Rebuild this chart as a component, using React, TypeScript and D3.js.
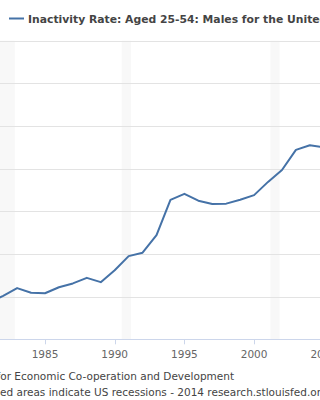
import * as React from 'react'
import { useEffect, useRef } from 'react'
import * as d3 from 'd3'

// annual observations, percent
const years = [1981, 1982, 1983, 1984, 1985, 1986, 1987, 1988, 1989, 1990, 1991, 1992, 1993,
  1994, 1995, 1996, 1997, 1998, 1999, 2000, 2001, 2002, 2003, 2004, 2005]
const rate = [4.85, 5.02, 5.2, 5.09, 5.08, 5.22, 5.31, 5.44, 5.34, 5.62, 5.95, 6.03, 6.44,
  7.27, 7.41, 7.25, 7.17, 7.18, 7.27, 7.38, 7.69, 7.97, 8.44, 8.55, 8.5]
const yTicks = [4, 5, 6, 7, 8, 9, 10, 11]
const xTicks = [1985, 1990, 1995, 2000, 2005]
const recessions: [number, number][] = [[1980.0, 1980.5], [1981.5, 1982.83], [1990.5, 1991.17], [2001.17, 2001.83]]

const title = 'Inactivity Rate: Aged 25-54: Males for the United States'
const source = 'Source: Organisation for Economic Co-operation and Development'
const note = 'Shaded areas indicate US recessions - 2014 research.stlouisfed.org'

const W = 320
const H = 400
const FONT = '"DejaVu Sans", Verdana, sans-serif'
const BLUE = '#4572a7'
const FS = 10.5

const App = () => {
  const ref = useRef<SVGSVGElement | null>(null)

  useEffect(() => {
    document.body.style.margin = '0'
    const svg = d3.select(ref.current)
    svg.selectAll('*').remove()

    const x = d3.scaleLinear().domain([1985, 2000]).range([45, 254.1])
    const y = d3.scaleLinear().domain([4, 11]).range([339.3, 40.7])

    const g = svg.append('g')

    // recession shading
    g.selectAll('rect.rec').data(recessions).enter().append('rect')
      .attr('x', d => x(d[0])).attr('width', d => x(d[1]) - x(d[0]))
      .attr('y', y(11)).attr('height', y(4) - y(11))
      .attr('fill', '#f8f8f8')

    // gridlines
    g.selectAll('line.grid').data(yTicks.slice(1)).enter().append('line')
      .attr('x1', -100).attr('x2', W + 100)
      .attr('y1', d => Math.round(y(d)) + 0.5).attr('y2', d => Math.round(y(d)) + 0.5)
      .attr('stroke', '#e3e3e3')

    // x axis
    g.append('line')
      .attr('x1', -100).attr('x2', W + 100)
      .attr('y1', Math.round(y(4)) + 0.5).attr('y2', Math.round(y(4)) + 0.5)
      .attr('stroke', '#ccd6eb')
    g.selectAll('line.tick').data(xTicks).enter().append('line')
      .attr('x1', d => Math.round(x(d)) + 0.5).attr('x2', d => Math.round(x(d)) + 0.5)
      .attr('y1', y(4)).attr('y2', y(4) + 5)
      .attr('stroke', '#ccd6eb')
    g.selectAll('text.xl').data(xTicks).enter().append('text')
      .attr('x', d => x(d)).attr('y', 357.5)
      .attr('text-anchor', 'middle').attr('font-family', FONT).attr('font-size', FS)
      .attr('fill', '#666').text(d => d)

    // series
    const line = d3.line<number>().x((d, i) => x(years[i])).y(d => y(d))
    g.append('path').datum(rate)
      .attr('d', line)
      .attr('fill', 'none').attr('stroke', BLUE).attr('stroke-width', 2)
      .attr('stroke-linejoin', 'round')

    // legend / title
    g.append('line').attr('x1', 9).attr('x2', 24).attr('y1', 18.5).attr('y2', 18.5)
      .attr('stroke', BLUE).attr('stroke-width', 2)
    g.append('text').attr('x', 28).attr('y', 22.5)
      .attr('font-family', FONT).attr('font-size', 10.8).attr('font-weight', 'bold')
      .attr('fill', '#444').text(title)

    // credits, cropped on the left
    g.append('text').attr('x', 234).attr('y', 379.5)
      .attr('text-anchor', 'end')
      .attr('font-family', FONT).attr('font-size', FS).attr('fill', '#444').text(source)

    const probe = g.append('text').attr('font-family', FONT).attr('font-size', FS).text('Shad')
    const cut = (probe.node() as SVGTextElement).getComputedTextLength()
    probe.remove()
    g.append('text').attr('x', -cut).attr('y', 395.5)
      .attr('font-family', FONT).attr('font-size', FS).attr('fill', '#444').text(note)
  }, [])

  return (
    <svg ref={ref} width={W} height={H}
      style={{ display: 'block', position: 'absolute', left: 0, top: 0, background: '#fff' }} />
  )
}

export default App
